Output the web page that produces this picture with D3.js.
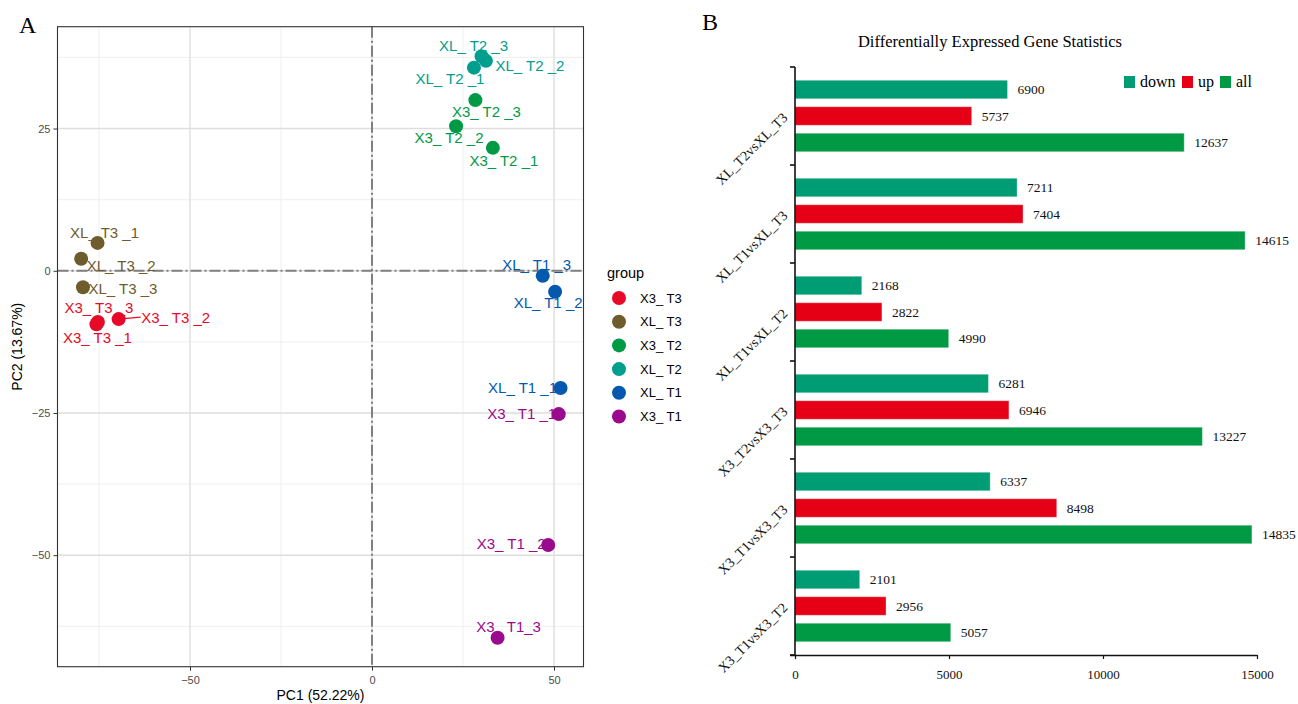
<!DOCTYPE html>
<html>
<head>
<meta charset="utf-8">
<script src="https://cdn.jsdelivr.net/npm/d3@7"></script>
<style>
  html, body { margin: 0; padding: 0; background: #fff; }
  svg { display: block; }
</style>
</head>
<body>
<svg id="fig" width="1298" height="704"></svg>
<script>
// ---------- Panel A: PCA scores ----------
const sampleNames = ["XL_T2_3","XL_T2_2","XL_T2_1","X3_T2_3","X3_T2_2","X3_T2_1",
  "XL_T3_1","XL_T3_2","XL_T3_3","X3_T3_3","X3_T3_2","X3_T3_1",
  "XL_T1_3","XL_T1_2","XL_T1_1","X3_T1_1","X3_T1_2","X3_T1_3"];
const sampleLabels = ["XL_ T2 _3","XL_ T2 _2","XL_ T2 _1","X3_ T2 _3","X3_ T2 _2","X3_ T2 _1",
  "XL_ T3 _1","XL_ T3 _2","XL_ T3 _3","X3_ T3 _3","X3_ T3 _2","X3_ T3 _1",
  "XL_ T1 _3","XL_ T1 _2","XL_ T1 _1","X3_ T1 _1","X3_ T1 _2","X3_ T1_3"];
const sampleGroups = ["XL_T2","XL_T2","XL_T2","X3_T2","X3_T2","X3_T2",
  "XL_T3","XL_T3","XL_T3","X3_T3","X3_T3","X3_T3",
  "XL_T1","XL_T1","XL_T1","X3_T1","X3_T1","X3_T1"];
const pc1 = [30.1, 31.3, 28.0, 28.4, 23.1, 33.2,
  -75.4, -79.9, -79.4, -75.3, -69.6, -75.7,
  46.9, 50.3, 51.8, 51.3, 48.4, 34.5];
const pc2 = [37.7, 36.9, 35.7, 30.0, 25.4, 21.6,
  4.9, 2.1, -2.9, -9.0, -8.5, -9.4,
  -0.9, -3.7, -20.6, -25.2, -48.2, -64.5];

const groupOrder = ["X3_T3","XL_T3","X3_T2","XL_T2","XL_T1","X3_T1"];
const groupLegendLabels = ["X3_ T3","XL_ T3","X3_ T2","XL_ T2","XL_ T1","X3_ T1"];
const groupColors = ["#E60A28","#6E5C2C","#009A46","#009E8E","#0459AE","#990A8C"];

const pcaXTicks = [-50, 0, 50];
const pcaYTicks = [25, 0, -25, -50];
const pcaXMinor = [-75, -25, 25];
const pcaYMinor = [37.5, 12.5, -12.5, -37.5, -62.5];

// label placement offsets (px) relative to each point, repelled by hand
const labelNudge = [[-8,-11],[44,5],[-24,11],[11,12],[-7,11],[11,13],
  [7,-10],[40,7],[40,1],[1,-14],[57,-2],[1,13],
  [-6,-11],[-7,11],[-38,0],[-37,-1],[-37,-1],[11,-11]];

// ---------- Panel B: DEG counts ----------
const comparisons = ["XL_T2vsXL_T3","XL_T1vsXL_T3","XL_T1vsXL_T2",
  "X3_T2vsX3_T3","X3_T1vsX3_T3","X3_T1vsX3_T2"];
const downCounts = [6900, 7211, 2168, 6281, 6337, 2101];
const upCounts   = [5737, 7404, 2822, 6946, 8498, 2956];
const allCounts  = [12637, 14615, 4990, 13227, 14835, 5057];
const seriesNames = ["down","up","all"];
const seriesColors = ["#009C73","#E60016","#009A44"];
const barXTicks = [0, 5000, 10000, 15000];

const svg = d3.select("#fig");
const sans = "'Liberation Sans', Arial, Helvetica, sans-serif";
const serif = "'Liberation Serif', 'Times New Roman', serif";

// ===== Panel A =====
const A = { left: 57.5, right: 583.5, top: 26.7, bottom: 666.7 };
const x = d3.scaleLinear().domain([-86.4, 58.1]).range([A.left, A.right]);
const y = d3.scaleLinear().domain([-69.6, 42.9]).range([A.bottom, A.top]);
const color = d3.scaleOrdinal().domain(groupOrder).range(groupColors);

const gA = svg.append("g");
gA.append("rect").attr("x", A.left).attr("y", A.top)
  .attr("width", A.right - A.left).attr("height", A.bottom - A.top).attr("fill", "#fff");

// minor grid
gA.selectAll("line.vminor").data(pcaXMinor).join("line")
  .attr("x1", d => x(d)).attr("x2", d => x(d)).attr("y1", A.top).attr("y2", A.bottom)
  .attr("stroke", "#ededed").attr("stroke-width", 0.9);
gA.selectAll("line.hminor").data(pcaYMinor).join("line")
  .attr("y1", d => y(d)).attr("y2", d => y(d)).attr("x1", A.left).attr("x2", A.right)
  .attr("stroke", "#ededed").attr("stroke-width", 0.9);
// major grid
gA.selectAll("line.vmajor").data(pcaXTicks).join("line")
  .attr("x1", d => x(d)).attr("x2", d => x(d)).attr("y1", A.top).attr("y2", A.bottom)
  .attr("stroke", "#dedede").attr("stroke-width", 1.4);
gA.selectAll("line.hmajor").data(pcaYTicks).join("line")
  .attr("y1", d => y(d)).attr("y2", d => y(d)).attr("x1", A.left).attr("x2", A.right)
  .attr("stroke", "#dedede").attr("stroke-width", 1.4);

// zero reference lines
const dash = "11,3,2,3";
gA.append("line").attr("x1", x(0)).attr("x2", x(0)).attr("y1", A.top).attr("y2", A.bottom)
  .attr("stroke", "#808080").attr("stroke-width", 2).attr("stroke-dasharray", dash);
gA.append("line").attr("y1", y(0)).attr("y2", y(0)).attr("x1", A.left).attr("x2", A.right)
  .attr("stroke", "#808080").attr("stroke-width", 2).attr("stroke-dasharray", dash);

// axes
const xAxisA = gA.append("g").attr("transform", `translate(0,${A.bottom})`)
  .call(d3.axisBottom(x).tickValues(pcaXTicks).tickSize(4).tickFormat(d => d < 0 ? "\u2212" + Math.abs(d) : d));
const yAxisA = gA.append("g").attr("transform", `translate(${A.left},0)`)
  .call(d3.axisLeft(y).tickValues(pcaYTicks).tickSize(4).tickFormat(d => d < 0 ? "\u2212" + Math.abs(d) : d));
[xAxisA, yAxisA].forEach(g => {
  g.select(".domain").remove();
  g.selectAll(".tick line").attr("stroke", "#333");
  g.selectAll(".tick text").attr("fill", "#4d4d4d").style("font-family", sans).style("font-size", "11px");
});
xAxisA.selectAll(".tick text").attr("dy", "0.9em");

// panel border
gA.append("rect").attr("x", A.left).attr("y", A.top)
  .attr("width", A.right - A.left).attr("height", A.bottom - A.top)
  .attr("fill", "none").attr("stroke", "#333").attr("stroke-width", 1.1);

// axis titles
gA.append("text").attr("x", (A.left + A.right) / 2).attr("y", 700)
  .attr("text-anchor", "middle").style("font-family", sans).style("font-size", "14px").attr("fill", "#000")
  .text("PC1 (52.22%)");
gA.append("text").attr("transform", `translate(22,${(A.top + A.bottom) / 2}) rotate(-90)`)
  .attr("text-anchor", "middle").style("font-family", sans).style("font-size", "14px").attr("fill", "#000")
  .text("PC2 (13.67%)");

// samples
const samples = sampleNames.map((n, i) => ({
  name: n, label: sampleLabels[i], group: sampleGroups[i], pc1: pc1[i], pc2: pc2[i],
  nx: labelNudge[i][0], ny: labelNudge[i][1]
}));

// leader segment for the one displaced label
const seg = samples.find(s => s.name === "X3_T3_2");
gA.append("line")
  .attr("x1", x(seg.pc1)).attr("y1", y(seg.pc2))
  .attr("x2", x(seg.pc1) + seg.nx - 35).attr("y2", y(seg.pc2) + seg.ny)
  .attr("stroke", color(seg.group)).attr("stroke-width", 1.2);

gA.selectAll("text.lab").data(samples).join("text")
  .attr("class", "lab")
  .attr("x", d => x(d.pc1) + d.nx).attr("y", d => y(d.pc2) + d.ny)
  .attr("dy", "0.36em").attr("text-anchor", "middle")
  .style("font-family", sans).style("font-size", "15px")
  .attr("fill", d => color(d.group)).text(d => d.label);

gA.selectAll("circle.pt").data(samples).join("circle")
  .attr("class", "pt")
  .attr("cx", d => x(d.pc1)).attr("cy", d => y(d.pc2)).attr("r", 7)
  .attr("fill", d => color(d.group));

// legend
const legA = gA.append("g").attr("transform", "translate(607,273)");
legA.append("text").attr("x", 0).attr("y", 0).attr("dy", "0.36em")
  .style("font-family", sans).style("font-size", "14.5px").text("group");
groupOrder.forEach((g, i) => {
  const row = legA.append("g").attr("transform", `translate(0,${25 + i * 23.7})`);
  row.append("circle").attr("cx", 12).attr("cy", 0).attr("r", 7).attr("fill", color(g));
  row.append("text").attr("x", 33).attr("y", 0).attr("dy", "0.36em")
    .style("font-family", sans).style("font-size", "13px").text(groupLegendLabels[i]);
});

// panel letter
svg.append("text").attr("x", 19).attr("y", 33)
  .style("font-family", serif).style("font-size", "24px").text("A");

// ===== Panel B =====
const B = { left: 795, right: 1257, top: 67, bottom: 655 };
const bx = d3.scaleLinear().domain([0, 15000]).range([B.left, B.right]);
const by = d3.scaleBand().domain(comparisons).range([B.top, B.bottom]);
const inner = d3.scaleBand().domain(seriesNames).range([0, by.bandwidth()])
  .paddingInner(0.3).paddingOuter(0.5);
const seriesColor = d3.scaleOrdinal().domain(seriesNames).range(seriesColors);

const valueTable = comparisons.map((c, i) => ({
  comp: c,
  values: [
    { key: "down", v: downCounts[i] },
    { key: "up", v: upCounts[i] },
    { key: "all", v: allCounts[i] }
  ]
}));

const gB = svg.append("g");
svg.append("text").attr("x", 702).attr("y", 30)
  .style("font-family", serif).style("font-size", "24px").text("B");

gB.append("text").attr("x", 990).attr("y", 47).attr("text-anchor", "middle")
  .style("font-family", serif).style("font-size", "16.5px").text("Differentially Expressed Gene Statistics");

const groups = gB.selectAll("g.cmp").data(valueTable).join("g")
  .attr("class", "cmp").attr("transform", d => `translate(0,${by(d.comp)})`);

groups.selectAll("rect").data(d => d.values).join("rect")
  .attr("x", bx(0)).attr("y", d => inner(d.key))
  .attr("width", d => bx(d.v) - bx(0)).attr("height", inner.bandwidth())
  .attr("fill", d => seriesColor(d.key))
  .attr("stroke", "rgba(255,255,255,0.35)").attr("stroke-width", 1);

groups.selectAll("text.val").data(d => d.values).join("text")
  .attr("class", "val")
  .attr("x", d => bx(d.v) + 10).attr("y", d => inner(d.key) + inner.bandwidth() / 2)
  .attr("dy", "0.36em")
  .style("font-family", serif).style("font-size", "13.5px").attr("fill", "#111")
  .text(d => d.v);

// category labels rotated
groups.append("text")
  .attr("transform", `translate(${B.left - 10},${by.bandwidth() / 2 - 1}) rotate(-45)`)
  .attr("text-anchor", "end").attr("dy", "0.36em")
  .style("font-family", serif).style("font-size", "14px").attr("fill", "#111")
  .text(d => d.comp);

// axes
const bxAxis = gB.append("g").attr("transform", `translate(0,${B.bottom})`)
  .call(d3.axisBottom(bx).tickValues(barXTicks).tickSize(4).tickSizeOuter(0).tickFormat(d3.format("d")));
bxAxis.select(".domain").attr("stroke", "#111").attr("stroke-width", 1.6)
  .attr("d", `M${B.left - 5},0.5H${B.right}`);
bxAxis.selectAll(".tick line").attr("stroke", "#111").attr("stroke-width", 1.2);
bxAxis.selectAll(".tick text").attr("dy", "1.3em")
  .style("font-family", serif).style("font-size", "13px").attr("fill", "#111");

const boundaries = comparisons.map(c => by(c)).concat([B.bottom]);
gB.append("line").attr("x1", B.left).attr("x2", B.left).attr("y1", B.top).attr("y2", B.bottom)
  .attr("stroke", "#111").attr("stroke-width", 1.6);
gB.selectAll("line.ytick").data(boundaries).join("line")
  .attr("x1", B.left - 5).attr("x2", B.left).attr("y1", d => d).attr("y2", d => d)
  .attr("stroke", "#111").attr("stroke-width", 1.6);

// legend
const legB = gB.append("g").attr("transform", "translate(1124,82)");
let lx = 0;
const legendSpacing = [58, 38, 0];
seriesNames.forEach((s, i) => {
  legB.append("rect").attr("x", lx).attr("y", -6).attr("width", 11).attr("height", 12)
    .attr("fill", seriesColor(s));
  legB.append("text").attr("x", lx + 16).attr("y", 0).attr("dy", "0.33em")
    .style("font-family", serif).style("font-size", "16px").text(s);
  lx += legendSpacing[i];
});
</script>
</body>
</html>
